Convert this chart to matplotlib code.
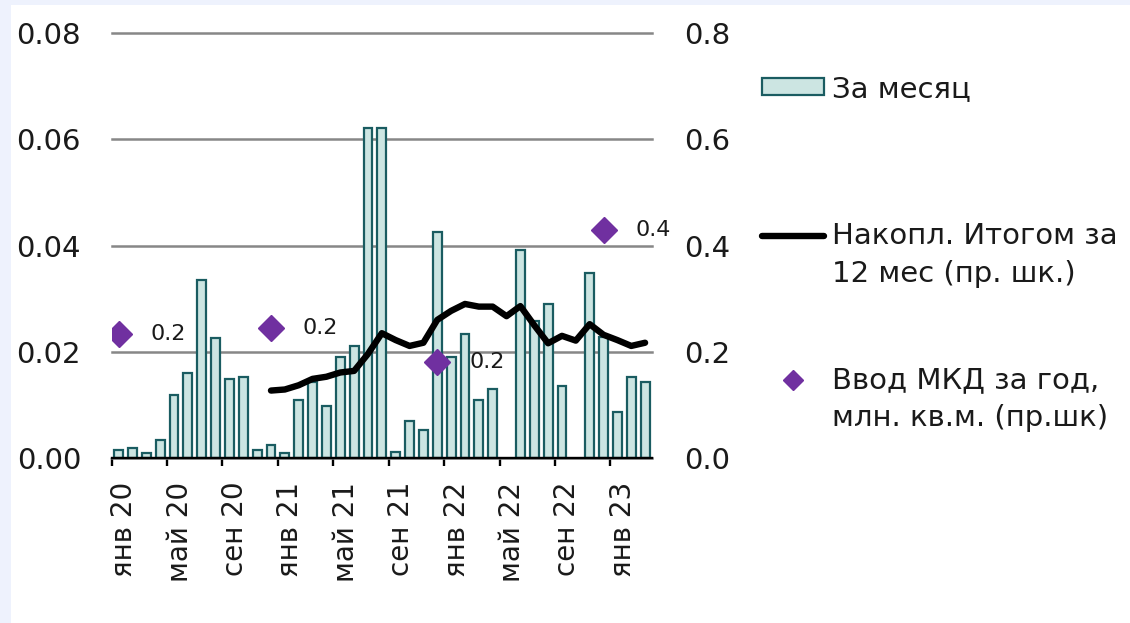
import numpy as np
import matplotlib.pyplot as plt
from matplotlib.legend_handler import HandlerLine2D
from matplotlib.patches import Rectangle

plt.rcParams['font.family'] = ['DejaVu Sans']

# --- data ---
month_names = ['янв', 'фев', 'мар', 'апр', 'май', 'июн',
               'июл', 'авг', 'сен', 'окт', 'ноя', 'дек']
n_months = 39  # янв 20 .. мар 23
dates = [f'{month_names[k % 12]} {20 + k // 12}' for k in range(n_months)]

monthly = [0.0015, 0.0019, 0.0010, 0.0033, 0.0118, 0.0160, 0.0336, 0.0225,
           0.0148, 0.0153, 0.0015, 0.0024, 0.0010, 0.0109, 0.0144, 0.0097,
           0.0191, 0.0211, 0.0622, 0.0622, 0.0011, 0.0070, 0.0053, 0.0425,
           0.0191, 0.0233, 0.0109, 0.0130, np.nan, 0.0392, 0.0258, 0.0289,
           0.0136, np.nan, 0.0349, 0.0228, 0.0087, 0.0152, 0.0143]

# 12-month cumulative total, from дек 20 onwards (right axis)
cum_start = 11
cum12 = [0.127, 0.129, 0.137, 0.149, 0.153, 0.161, 0.164, 0.196, 0.235,
         0.222, 0.211, 0.217, 0.260, 0.277, 0.290, 0.285, 0.285, 0.267,
         0.286, 0.250, 0.216, 0.230, 0.221, 0.252, 0.232, 0.222, 0.211,
         0.217]

# annual housing commissioning (right axis)
annual_idx = [0, 11, 23, 35]
annual_val = [0.233, 0.245, 0.181, 0.429]

bar_fill = '#cce5e2'
bar_edge = '#1a5c61'
purple = '#7030a0'
txt = '#1a1a1a'

fig = plt.figure(figsize=(11.3, 6.23), dpi=100, facecolor='#eef2fd')
fig.patches.append(Rectangle((11 / 1130, 0), 1, 618 / 623, transform=fig.transFigure,
                             facecolor='white', edgecolor='none', zorder=-10))

ax = fig.add_axes([0.0988, 0.2648, 0.4782, 0.6822])
ax.set_facecolor('none')
x = np.arange(n_months)
bars = ax.bar(x, monthly, width=0.64, color=bar_fill, edgecolor=bar_edge,
              linewidth=1.6, zorder=3, label='За месяц')
ax.set_xlim(-0.5, n_months - 0.5)
ax.set_ylim(0, 0.08)
ax.set_yticks([0, 0.02, 0.04, 0.06, 0.08])
ax.set_yticklabels([f'{v:.2f}' for v in ax.get_yticks()])
ax.yaxis.grid(True, color='#878787', linewidth=1.8, zorder=0)
for gl in ax.get_ygridlines():
    gl.set_clip_on(False)
ax.set_axisbelow(True)
for s in ['left', 'right', 'top']:
    ax.spines[s].set_visible(False)
ax.spines['bottom'].set_linewidth(1.7)
ax.spines['bottom'].set_zorder(5)
ax.tick_params(axis='y', length=0, pad=22, labelsize=21, labelcolor=txt)

lab_pos = [k for k in range(n_months) if k % 4 == 0]
ax.set_xticks([k + 0.4 for k in lab_pos])
ax.set_xticklabels([dates[k] for k in lab_pos], rotation=90)
ax.set_xticks([k - 0.5 for k in lab_pos], minor=True)
ax.tick_params(axis='x', which='major', length=0, pad=17, labelsize=20, labelcolor=txt)
ax.tick_params(axis='x', which='minor', length=6, width=1.7, direction='out')

ax2 = ax.twinx()
ax2.set_ylim(0, 0.8)
ax2.set_yticks([0, 0.2, 0.4, 0.6, 0.8])
ax2.set_yticklabels([f'{v:.1f}' for v in ax2.get_yticks()])
ax2.tick_params(axis='y', length=0, pad=23, labelsize=21, labelcolor=txt)
for s in ax2.spines.values():
    s.set_visible(False)

line, = ax2.plot(x[cum_start:cum_start + len(cum12)], cum12, color='black',
                 linewidth=4.6, solid_joinstyle='round', solid_capstyle='round',
                 zorder=4, label='Накопл. Итогом за\n12 мес (пр. шк.)')
dots, = ax2.plot(annual_idx, annual_val, linestyle='none', marker='D', ms=13.5,
                 color=purple, zorder=5, label='Ввод МКД за год,\nмлн. кв.м. (пр.шк)')
for i, v in zip(annual_idx, annual_val):
    ax2.annotate(f'{v:.1f}', (i, v), xytext=(23, 0), textcoords='offset points',
                 va='center', ha='left', fontsize=16, color=txt, zorder=6)


class FirstLineHandler(HandlerLine2D):
    # keep the handle level with the first line of a two-line label
    def __init__(self, shift, **kw):
        super().__init__(**kw)
        self.shift = shift

    def create_artists(self, legend, orig_handle, xdescent, ydescent,
                       width, height, fontsize, trans):
        arts = super().create_artists(legend, orig_handle, xdescent, ydescent,
                                      width, height, fontsize, trans)
        for a in arts:
            a.set_ydata(np.asarray(a.get_ydata(), dtype=float) + self.shift)
        return arts


leg_kw = dict(frameon=False, fontsize=21, borderpad=0, borderaxespad=0,
              handlelength=2.12, handletextpad=0.28, loc='center left',
              bbox_transform=fig.transFigure)

leg1 = ax2.legend(handles=[bars], handleheight=0.55,
                  bbox_to_anchor=(762 / 1130, 1 - 89 / 623), **leg_kw)
ax2.add_artist(leg1)

leg2 = ax2.legend(handles=[line], handler_map={line: FirstLineHandler(14.4)},
                  bbox_to_anchor=(762 / 1130, 1 - 255 / 623), **leg_kw)
ax2.add_artist(leg2)

leg3 = ax2.legend(handles=[dots], markerscale=0.75,
                  handler_map={dots: FirstLineHandler(14.4)},
                  bbox_to_anchor=(762 / 1130, 1 - 399 / 623), **leg_kw)
for lg in (leg1, leg2, leg3):
    for t in lg.get_texts():
        t.set_color(txt)
        t.set_linespacing(1.45)

fig.savefig('out.png', dpi=100, facecolor=fig.get_facecolor())
